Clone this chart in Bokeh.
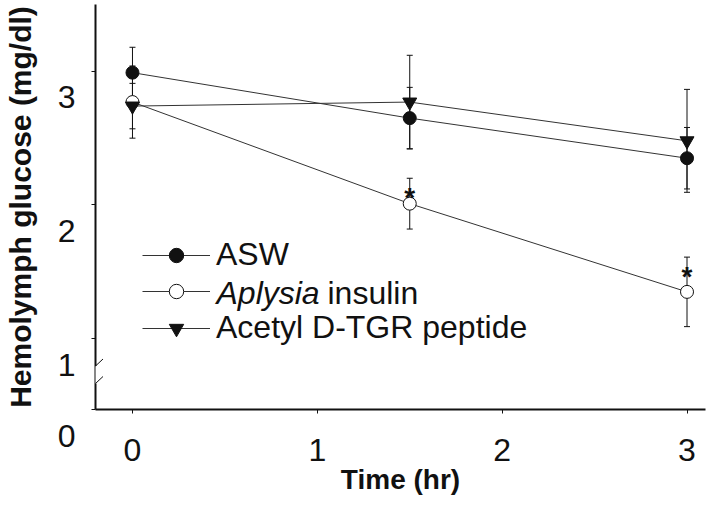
from bokeh.plotting import figure
from bokeh.models import (Range1d, LinearAxis, FixedTicker, Whisker, TeeHead, Legend,
                          LegendItem, Label, Arrow, ColumnDataSource)
from bokeh.core.properties import value
from bokeh.embed import file_html
from bokeh.resources import INLINE

# ---- data ----
time_hr = [0, 1.5, 3]
asw_mean = [2.99, 2.65, 2.35]
asw_se = [0.19, 0.23, 0.23]
ins_mean = [2.77, 2.01, 1.35]
ins_se = [0.27, 0.19, 0.26]
acd_mean = [2.74, 2.77, 2.48]
acd_se = [0.17, 0.35, 0.385]
sig_time = [1.5, 3]          # points marked with *
sig_mean = [2.01, 1.35]
sig_se = [0.19, 0.26]

series_labels = ["ASW", "Aplysia insulin", "Acetyl D-TGR peptide"]
x_ticks = [0, 1, 2, 3]
y_ticks = [1, 2, 3]
Y_BOTTOM = 0.47   # broken axis, bottom labelled "0"
Y_TOP = 3.50
X_START, X_END = -0.2, 3.1

W, H = 720, 515
MB_LEFT, MB_RIGHT, MB_TOP, MB_BOTTOM = 95, 15, 4, 106
FRAME_H = H - MB_TOP - MB_BOTTOM
FRAME_W = W - MB_LEFT - MB_RIGHT
PX_Y = FRAME_H / (Y_TOP - Y_BOTTOM)
PX_X = FRAME_W / (X_END - X_START)

FONT = "Liberation Sans"
INK = "#111111"

p = figure(width=W, height=H, x_range=Range1d(X_START, X_END),
           y_range=Range1d(Y_BOTTOM, Y_TOP), y_axis_location=None,
           output_backend="svg", toolbar_location=None)
p.min_border_left = MB_LEFT
p.min_border_right = MB_RIGHT
p.min_border_top = MB_TOP
p.min_border_bottom = MB_BOTTOM
p.outline_line_color = None
p.xgrid.visible = False
p.ygrid.visible = False
p.background_fill_color = "white"
p.border_fill_color = "white"

# x axis
xa = p.xaxis[0]
xa.ticker = FixedTicker(ticks=x_ticks)
xa.axis_line_width = 2
xa.axis_line_color = INK
xa.major_tick_out = 4
xa.major_tick_in = 0
xa.major_tick_line_color = INK
xa.minor_tick_line_color = None
xa.major_label_standoff = 25
xa.major_label_text_font = FONT
xa.major_label_text_font_size = "32px"
xa.major_label_text_color = INK
xa.axis_label = "Time (hr)"
xa.axis_label_text_font = FONT
xa.axis_label_text_font_style = "bold"
xa.axis_label_text_font_size = "28px"
xa.axis_label_text_color = INK
xa.axis_label_standoff = 0

# y axis; tick labels sit ~26px below their ticks (as in the original):
# an empty first line pushes each label down.
y_label_text = {t: "\n" + s for t, s in zip([Y_BOTTOM] + y_ticks, ["0", "1", "2", "3"])}
ya = LinearAxis(ticker=FixedTicker(ticks=[Y_BOTTOM] + y_ticks),
                major_label_overrides=y_label_text)
ya.axis_line_width = 2
ya.axis_line_color = INK
ya.major_tick_out = 4
ya.major_tick_in = 0
ya.major_tick_line_color = INK
ya.minor_tick_line_color = None
ya.major_label_standoff = 16
ya.major_label_text_font = FONT
ya.major_label_text_font_size = "32px"
ya.major_label_text_line_height = 1.45
ya.major_label_text_color = INK
ya.axis_label = "Hemolymph glucose (mg/dl)"
ya.axis_label_text_font = FONT
ya.axis_label_text_font_style = "bold"
ya.axis_label_text_font_size = "30px"
ya.axis_label_text_color = INK
ya.axis_label_standoff = 18
p.add_layout(ya, "left")

# axis break marks
brk = [43.5, 26]           # px above the frame bottom
p.add_layout(Arrow(end=None, start_units="screen", end_units="screen",
                   x_start=0, y_start=brk[0], x_end=0, y_end=brk[1],
                   line_color="white", line_width=6))
for b in brk:
    p.add_layout(Arrow(end=None, start_units="screen", end_units="screen",
                       x_start=-7.5, y_start=b - 7, x_end=7.5, y_end=b + 7,
                       line_color=INK, line_width=1))

# series
def add_series(means, ses, marker, fill, size):
    src = ColumnDataSource(dict(t=time_hr, m=means,
                                lo=[m - s for m, s in zip(means, ses)],
                                hi=[m + s for m, s in zip(means, ses)]))
    w = Whisker(source=src, base="t", lower="lo", upper="hi", dimension="height",
                line_color=INK, line_width=1, level="underlay",
                upper_head=TeeHead(size=6, line_color=INK, line_width=1),
                lower_head=TeeHead(size=6, line_color=INK, line_width=1))
    p.add_layout(w)
    lr = p.line("t", "m", source=src, line_color="#333333", line_width=1)
    sr = p.scatter("t", "m", source=src, marker=marker, size=size,
                   fill_color=fill, line_color=INK, line_width=1)
    return [lr, sr]

r_asw = add_series(asw_mean, asw_se, "circle", INK, 13)
r_ins = add_series(ins_mean, ins_se, "circle", "white", 13)
r_acd = add_series(acd_mean, acd_se, "inverted_triangle", INK, 14)

# significance stars
star_src = ColumnDataSource(dict(t=sig_time, y=[m + s for m, s in zip(sig_mean, sig_se)],
                                 s=["*"] * len(sig_time)))
p.text("t", "y", text="s", source=star_src, text_align="center", text_baseline="top",
       y_offset=4, text_font=value(FONT), text_font_style="bold",
       text_font_size="28px", text_color=INK)

# legend
LEG_X, LEG_Y, ROW = 47, 63, 36
legend = Legend(items=[LegendItem(label=series_labels[0], renderers=r_asw),
                       LegendItem(label=" ", renderers=r_ins),
                       LegendItem(label=series_labels[2], renderers=r_acd)],
                location=(LEG_X, LEG_Y), orientation="vertical")
legend.glyph_width = 68
legend.glyph_height = ROW
legend.label_height = ROW
legend.spacing = 0
legend.padding = 0
legend.margin = 0
legend.label_standoff = 6
legend.border_line_color = None
legend.background_fill_alpha = 0
legend.label_text_font = FONT
legend.label_text_font_size = "32px"
legend.label_text_color = INK
p.add_layout(legend)

# italic genus name in the second legend entry
lx = X_START + (LEG_X + 68 + 6) / PX_X
ly = Y_BOTTOM + (LEG_Y + 1.5 * ROW) / PX_Y
genus, rest = series_labels[1].split(" ", 1)
p.add_layout(Label(x=lx, y=ly, text=genus, text_align="left", text_baseline="middle",
                   text_font=FONT, text_font_style="italic",
                   text_font_size="32px", text_color=INK))
p.add_layout(Label(x=lx, y=ly, x_offset=111, text=rest, text_align="left",
                   text_baseline="middle", text_font=FONT,
                   text_font_size="32px", text_color=INK))

open("out.html", "w").write(file_html(p, INLINE))
